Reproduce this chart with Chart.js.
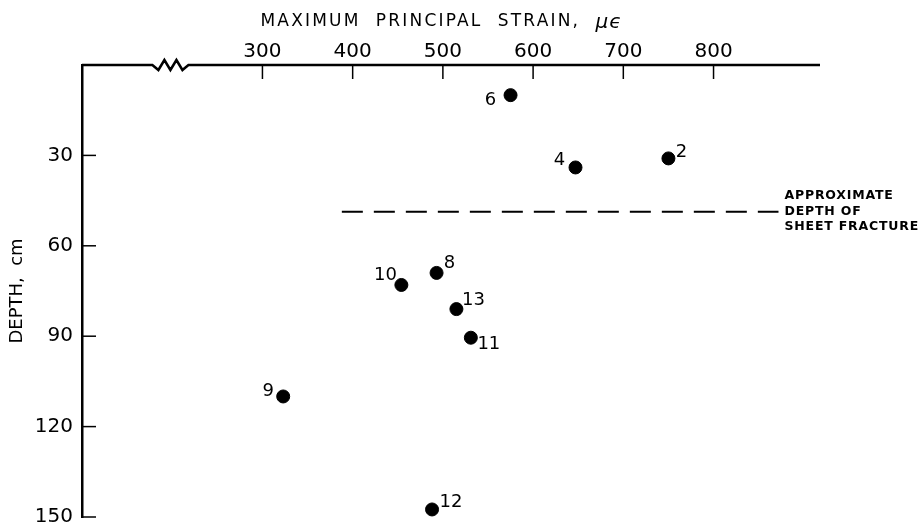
<!DOCTYPE html>
<html>
<head>
<meta charset="utf-8">
<script src="https://cdn.jsdelivr.net/npm/chart.js@4"></script>
<style>
html, body { margin: 0; padding: 0; background: #fff; }
#wrap { width: 920px; height: 525px; }
</style>
</head>
<body>
<div id="wrap"><canvas id="graficoStrain"></canvas></div>
<script>
// gauge numbers, max principal strain (microstrain) and depth (cm)
const gauges = ['6', '4', '2', '10', '8', '13', '11', '9', '12'];
const strain = [575, 647, 750, 454, 493, 515, 531, 323, 488];
const depth = [10, 34, 31, 73, 69, 81, 90.5, 110, 147.5];

// approximate depth of sheet fracture
const fractureDepth = 48.7;
const fractureStrain = [388, 872];
const fractureNote = ['APPROXIMATE', 'DEPTH OF', 'SHEET FRACTURE'];

const strainTicks = [300, 400, 500, 600, 700, 800];
const depthTicks = [30, 60, 90, 120, 150];

// where each gauge number sits next to its dot (px)
const labelOffsets = {
    '6': [-20, 5], '4': [-16, -7], '2': [13, -6], '10': [-16, -10], '8': [13, -10],
    '13': [17, -9], '11': [18, 7], '9': [-15, -5], '12': [19, -7]
};

const FONT = 'DejaVu Sans';

const dibujoPlugin = {
    id: 'dibujo',
    afterDraw(chart) {
        const ctx = chart.ctx;
        const xs = chart.scales.x;
        const ys = chart.scales.y;
        const { top, left } = chart.chartArea;
        ctx.save();
        ctx.strokeStyle = '#000';
        ctx.fillStyle = '#000';

        // top axis line with break symbol
        ctx.lineWidth = 2.5;
        const z0 = xs.getPixelForValue(178);
        const z1 = xs.getPixelForValue(218);
        ctx.beginPath();
        ctx.moveTo(left, top);
        ctx.lineTo(z0, top);
        const steps = 6;
        for (let i = 1; i < steps; i++) {
            ctx.lineTo(z0 + (z1 - z0) * i / steps, top + (i % 2 ? 5 : -5));
        }
        ctx.lineTo(z1, top);
        ctx.lineTo(xs.getPixelForValue(918), top);
        ctx.stroke();

        // inward tick marks
        ctx.lineWidth = 1.5;
        xs.ticks.forEach(t => {
            const x = xs.getPixelForValue(t.value);
            ctx.beginPath();
            ctx.moveTo(x, top);
            ctx.lineTo(x, top + 14);
            ctx.stroke();
        });
        ys.ticks.forEach(t => {
            const y = ys.getPixelForValue(t.value);
            ctx.beginPath();
            ctx.moveTo(left, y);
            ctx.lineTo(left + 14, y);
            ctx.stroke();
        });

        // top axis title
        ctx.textBaseline = 'middle';
        ctx.textAlign = 'left';
        ctx.font = '17px "' + FONT + '"';
        ctx.letterSpacing = '2.2px';
        const tx = xs.getPixelForValue(300) - 2;
        const main = 'MAXIMUM  PRINCIPAL  STRAIN,  ';
        ctx.fillText(main, tx, 22);
        const w = ctx.measureText(main).width;
        ctx.letterSpacing = '1px';
        ctx.font = 'italic 20px "' + FONT + '"';
        ctx.fillText('\u03bc\u03f5', tx + w, 23);

        // gauge numbers
        ctx.letterSpacing = '0px';
        ctx.font = '18px "' + FONT + '"';
        ctx.textAlign = 'center';
        const meta = chart.getDatasetMeta(1);
        meta.data.forEach((pt, i) => {
            const off = labelOffsets[gauges[i]];
            ctx.fillText(gauges[i], pt.x + off[0], pt.y + off[1]);
        });

        // note at end of dashed line
        ctx.textAlign = 'left';
        ctx.font = 'bold 12.5px "' + FONT + '"';
        ctx.letterSpacing = '0.8px';
        const nx = xs.getPixelForValue(fractureStrain[1]) + 6;
        const ny = ys.getPixelForValue(fractureDepth);
        fractureNote.forEach((line, i) => {
            ctx.fillText(line, nx, ny + (i - 1) * 15.5);
        });
        ctx.restore();
    }
};

const data = {
    datasets: [
        {
            type: 'line',
            label: 'Sheet fracture',
            data: fractureStrain.map(v => ({ x: v, y: fractureDepth })),
            borderColor: '#000',
            borderWidth: 2,
            borderDash: [21, 11],
            pointRadius: 0,
        },
        {
            type: 'scatter',
            label: 'Gauges',
            data: strain.map((v, i) => ({ x: v, y: depth[i] })),
            backgroundColor: '#000',
            borderColor: '#000',
            pointRadius: 6.5,
        }
    ]
};

const config = {
    type: 'scatter',
    data: data,
    options: {
        responsive: true,
        maintainAspectRatio: false,
        animation: false,
        layout: {
            padding: { left: 0, top: 0, right: 17, bottom: 8 }
        },
        plugins: {
            legend: { display: false },
            tooltip: { enabled: false }
        },
        scales: {
            x: {
                type: 'linear',
                position: 'top',
                min: 100,
                max: 1010,
                afterBuildTicks: s => { s.ticks = strainTicks.map(v => ({ value: v })); },
                afterFit: s => { s.height = 65; s.paddingLeft = 0; s.paddingRight = 0; },
                grid: { display: false, drawTicks: false },
                border: { display: false },
                ticks: {
                    color: '#000',
                    padding: 1,
                    font: { family: FONT, size: 20 }
                }
            },
            y: {
                type: 'linear',
                reverse: true,
                min: 0,
                max: 150,
                afterBuildTicks: s => { s.ticks = depthTicks.map(v => ({ value: v })); },
                afterFit: s => { s.width = 82; s.paddingTop = 0; s.paddingBottom = 0; },
                grid: { display: false, drawTicks: false },
                border: { display: true, color: '#000', width: 2.5 },
                ticks: {
                    color: '#000',
                    padding: 9,
                    font: { family: FONT, size: 20 }
                },
                title: {
                    display: true,
                    text: 'DEPTH,  cm',
                    color: '#000',
                    font: { family: FONT, size: 18 },
                    padding: { top: 7, bottom: 0 }
                }
            }
        }
    },
    plugins: [dibujoPlugin]
};

const myChart = new Chart(document.getElementById('graficoStrain'), config);
</script>
</body>
</html>
